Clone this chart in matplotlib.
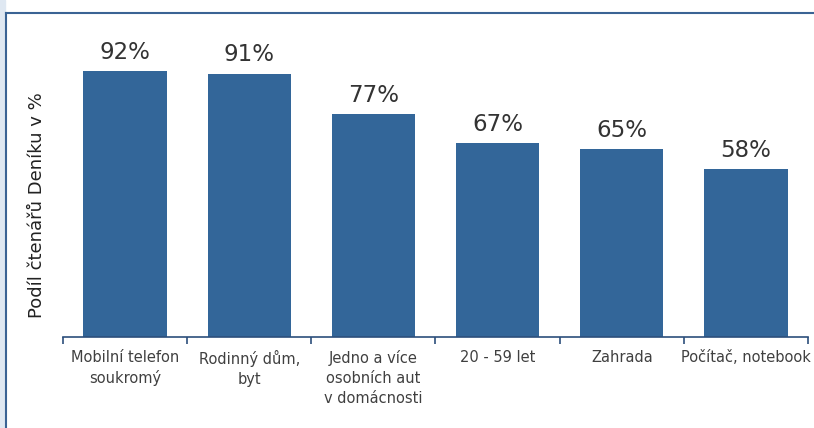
import matplotlib.pyplot as plt
from matplotlib.patches import Rectangle
from matplotlib.lines import Line2D

categories = ['Mobilní telefon\nsoukromý', 'Rodinný dům,\nbyt', 'Jedno a více\nosobních aut\nv domácnosti',
              '20 - 59 let', 'Zahrada', 'Počítač, notebook']
values = [92, 91, 77, 67, 65, 58]

W, H = 814, 428
fig = plt.figure(figsize=(W / 100, H / 100), dpi=100)
fig.patch.set_facecolor('white')

# frame around the chart: light strip on the left, blue border lines
fig.patches.append(Rectangle((0, 0), 5 / W, 1, transform=fig.transFigure, color='#dfe8f2', zorder=0))
fig.lines.append(Line2D([5.5 / W, 5.5 / W], [0, 1 - 13 / H], transform=fig.transFigure, color='#3a6394', lw=1.5))
fig.lines.append(Line2D([5.5 / W, 1], [1 - 13 / H, 1 - 13 / H], transform=fig.transFigure, color='#3a6394', lw=1.5))

ax = fig.add_axes([63 / W, (H - 337) / H, (808 - 63) / W, (337 - 48) / H])
x = range(len(values))
bars = ax.bar(x, values, width=0.67, color='#336699', zorder=2)
for xi, v in zip(x, values):
    ax.text(xi, v + 2.6, f'{v}%', ha='center', va='bottom', fontsize=16.5, color='#333333')

ax.set_xlim(-0.5, len(values) - 0.5)
ax.set_ylim(0, 100)
for s in ['top', 'right', 'left']:
    ax.spines[s].set_visible(False)
ax.spines['bottom'].set_color('#2c4f7c')
ax.spines['bottom'].set_linewidth(1.2)
ax.set_yticks([])
ax.set_xticks([i - 0.5 for i in range(len(values) + 1)], minor=False)
ax.set_xticklabels([])
ax.tick_params(axis='x', which='major', length=5, color='#2c4f7c', width=1.2)
ax.set_xticks(list(x), minor=True)
ax.set_xticklabels(categories, minor=True, fontsize=10.5, color='#404040', linespacing=1.45)
ax.tick_params(axis='x', which='minor', length=0, pad=9)

fig.text(37 / W, 1 - 205 / H, 'Podíl čtenářů Deníku v %', rotation=90, ha='center', va='center',
         fontsize=13, color='#222222')

plt.savefig('out.png', dpi=100)
